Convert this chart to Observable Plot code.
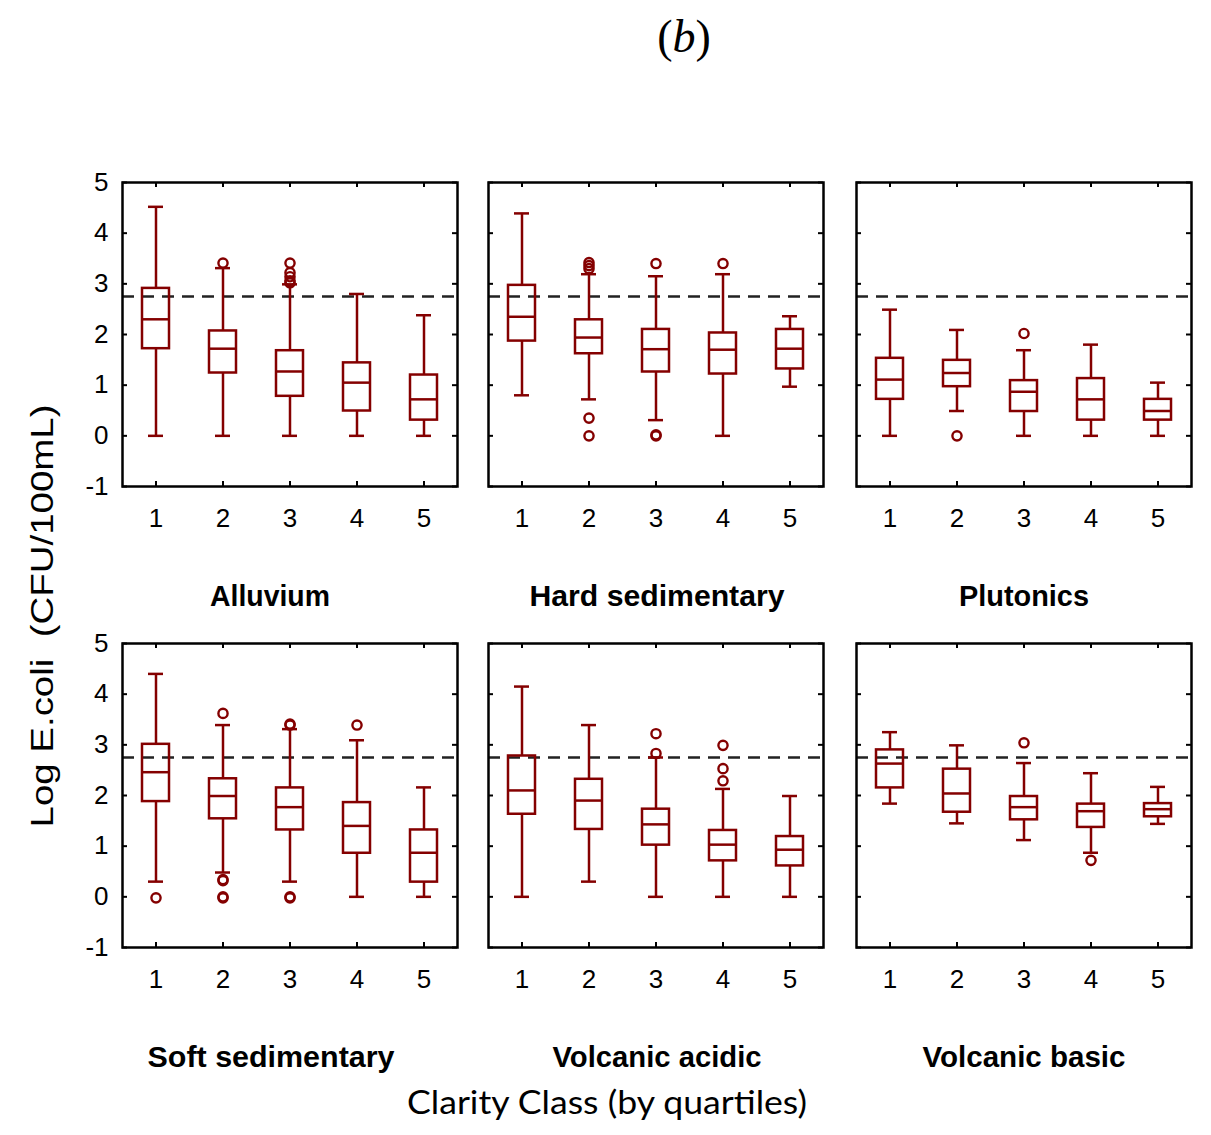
<!DOCTYPE html>
<html>
<head>
<meta charset="utf-8">
<script src="https://cdn.jsdelivr.net/npm/d3@7"></script>
<script src="https://cdn.jsdelivr.net/npm/@observablehq/plot@0.6"></script>
<style>
  html, body { margin: 0; padding: 0; background: #ffffff; }
  #chart { position: relative; width: 1211px; height: 1135px; background: #ffffff; overflow: hidden; }
  #chart .panel { position: absolute; }
  #chart .overlay { position: absolute; left: 0; top: 0; pointer-events: none; }
</style>
</head>
<body>
<div id="chart"></div>
<script>
// ---------------- data ----------------
const classes = [1, 2, 3, 4, 5];
const panelNames = ["Alluvium", "Hard sedimentary", "Plutonics", "Soft sedimentary", "Volcanic acidic", "Volcanic basic"];
const yTicks = [-1, 0, 1, 2, 3, 4, 5];
const threshold = 2.75;
const title = "(b)";
const yTitle = "Log E.coli  (CFU/100mL)";
const xTitle = "Clarity Class (by quartiles)";

// one row per panel, one value per clarity class
const whiskerLow = [
  [0, 0, 0, 0, 0],
  [0.80, 0.72, 0.31, 0, 0.97],
  [0, 0.49, 0, 0, 0],
  [0.30, 0.48, 0.30, 0, 0],
  [0, 0.30, 0, 0, 0],
  [1.84, 1.45, 1.12, 0.87, 1.44]
];
const quartile1 = [
  [1.72, 1.24, 0.78, 0.49, 0.31],
  [1.87, 1.62, 1.26, 1.22, 1.32],
  [0.72, 0.97, 0.48, 0.31, 0.31],
  [1.88, 1.54, 1.32, 0.86, 0.29],
  [1.63, 1.33, 1.02, 0.71, 0.61],
  [2.15, 1.67, 1.52, 1.37, 1.58]
];
const medians = [
  [2.30, 1.72, 1.27, 1.05, 0.72],
  [2.35, 1.94, 1.71, 1.70, 1.72],
  [1.11, 1.24, 0.87, 0.72, 0.49],
  [2.46, 1.99, 1.77, 1.40, 0.87],
  [2.10, 1.90, 1.43, 1.03, 0.93],
  [2.63, 2.04, 1.77, 1.69, 1.73]
];
const quartile3 = [
  [2.91, 2.07, 1.68, 1.44, 1.20],
  [2.97, 2.29, 2.10, 2.03, 2.10],
  [1.53, 1.49, 1.09, 1.13, 0.72],
  [3.01, 2.33, 2.15, 1.86, 1.32],
  [2.78, 2.32, 1.73, 1.31, 1.19],
  [2.90, 2.52, 1.98, 1.83, 1.84]
];
const whiskerHigh = [
  [4.52, 3.31, 2.99, 2.80, 2.38],
  [4.39, 3.19, 3.15, 3.19, 2.36],
  [2.49, 2.09, 1.69, 1.80, 1.05],
  [4.40, 3.39, 3.31, 3.09, 2.16],
  [4.15, 3.39, 2.75, 2.13, 1.99],
  [3.25, 2.99, 2.64, 2.44, 2.17]
];
// [class, value] per outlier
const outliers = [
  [[2, 3.41], [3, 3.41], [3, 3.22], [3, 3.14], [3, 3.06], [3, 3.02]],
  [[2, 3.42], [2, 3.36], [2, 3.30], [2, 0.35], [2, 0], [3, 3.40], [3, 0], [3, 0.02], [4, 3.40]],
  [[2, 0], [3, 2.02]],
  [[1, -0.02], [2, 3.62], [2, 0.34], [2, 0.32], [2, -0.02], [2, 0], [3, 3.41], [3, 3.39], [3, -0.02], [3, 0], [4, 3.39]],
  [[3, 3.22], [3, 2.83], [4, 2.99], [4, 2.53], [4, 2.29]],
  [[3, 3.04], [4, 0.72]]
];

// ---------------- layout ----------------
const RED = "#840000";
const frameLefts = [122, 488, 856];
const frameTops = [182, 643];
const frameW = 335, frameH = 304;
const ML = 60, MR = 12, MT = 12, MB = 60;
const titleX = [270, 657, 1024, 271, 657, 1024];
const titleLen = [120, 255, 130, 247, 209, 203];
const titleBaseline = [606, 1067];

const chart = document.getElementById("chart");

function panel(i) {
  const col = i % 3;
  const rows = classes.map((c, j) => ({
    cls: c,
    lo: whiskerLow[i][j],
    q1: quartile1[i][j],
    med: medians[i][j],
    q3: quartile3[i][j],
    hi: whiskerHigh[i][j]
  }));
  const out = outliers[i].map(([c, v]) => ({cls: c, v}));
  const sw = 2.5;
  return Plot.plot({
    width: ML + frameW + MR,
    height: MT + frameH + MB,
    marginLeft: ML, marginRight: MR, marginTop: MT, marginBottom: MB,
    style: {fontFamily: "'Liberation Sans', Arial, sans-serif", fontSize: "26px", color: "#000", background: "transparent", overflow: "visible"},
    x: {type: "band", domain: classes, padding: 0},
    y: {domain: [-1, 5]},
    marks: [
      Plot.ruleY([threshold], {stroke: "#222", strokeWidth: 2.7, strokeDasharray: "12,8"}),
      Plot.ruleX(rows, {x: "cls", y1: "q3", y2: "hi", stroke: RED, strokeWidth: sw}),
      Plot.ruleX(rows, {x: "cls", y1: "lo", y2: "q1", stroke: RED, strokeWidth: sw}),
      Plot.tickY(rows, {x: "cls", y: "hi", stroke: RED, strokeWidth: sw, inset: 26}),
      Plot.tickY(rows, {x: "cls", y: "lo", stroke: RED, strokeWidth: sw, inset: 26}),
      Plot.barY(rows, {x: "cls", y1: "q1", y2: "q3", fill: "none", stroke: RED, strokeWidth: sw, insetLeft: 20, insetRight: 20}),
      Plot.tickY(rows, {x: "cls", y: "med", stroke: RED, strokeWidth: sw, inset: 20}),
      Plot.dot(out, {x: "cls", y: "v", r: 4.6, stroke: RED, strokeWidth: 2.4, fill: "none"}),
      Plot.gridY(yTicks, {stroke: "#000", strokeOpacity: 1, strokeWidth: 2, insetRight: frameW - 5}),
      Plot.gridY(yTicks, {stroke: "#000", strokeOpacity: 1, strokeWidth: 2, insetLeft: frameW - 5}),
      Plot.gridX(classes, {stroke: "#000", strokeOpacity: 1, strokeWidth: 2, insetTop: frameH - 5}),
      Plot.gridX(classes, {stroke: "#000", strokeOpacity: 1, strokeWidth: 2, insetBottom: frameH - 5}),
      Plot.frame({stroke: "#000", strokeWidth: 2.5}),
      Plot.axisX(classes, {tickSize: 0, tickPadding: 22, label: null}),
      col === 0
        ? Plot.axisY(yTicks, {tickSize: 0, tickPadding: 14, label: null, tickFormat: (d) => String(d)})
        : Plot.axisY([], {label: null})
    ]
  });
}

for (let i = 0; i < 6; i++) {
  const svg = panel(i);
  svg.classList.add("panel");
  svg.style.left = (frameLefts[i % 3] - ML) + "px";
  svg.style.top = (frameTops[Math.floor(i / 3)] - MT) + "px";
  chart.appendChild(svg);
}

// overlay texts
const NS = "http://www.w3.org/2000/svg";
const ov = document.createElementNS(NS, "svg");
ov.setAttribute("class", "overlay");
ov.setAttribute("width", 1211);
ov.setAttribute("height", 1135);
function addText(str, attrs, style) {
  const t = document.createElementNS(NS, "text");
  for (const k in attrs) t.setAttribute(k, attrs[k]);
  Object.assign(t.style, style || {});
  t.textContent = str;
  ov.appendChild(t);
  return t;
}
// title "(b)" with italic b
{
  const t = document.createElementNS(NS, "text");
  t.setAttribute("x", 684); t.setAttribute("y", 52);
  t.setAttribute("text-anchor", "middle");
  t.style.fontFamily = "'Liberation Serif', 'DejaVu Serif', serif";
  t.style.fontSize = "46px";
  t.style.fill = "#000";
  const m = title.match(/^\((.*)\)$/);
  const a = document.createElementNS(NS, "tspan"); a.textContent = "(";
  const b = document.createElementNS(NS, "tspan"); b.textContent = m ? m[1] : title; b.style.fontStyle = "italic";
  const c = document.createElementNS(NS, "tspan"); c.textContent = ")";
  t.append(a, b, c);
  ov.appendChild(t);
}
// panel titles
panelNames.forEach((name, i) => {
  addText(name, {
    x: titleX[i], y: titleBaseline[Math.floor(i / 3)], "text-anchor": "middle",
    textLength: titleLen[i], lengthAdjust: "spacingAndGlyphs"
  }, {fontFamily: "'Liberation Sans', Arial, sans-serif", fontWeight: "bold", fontSize: "29px", fill: "#000"});
});
// y title
addText(yTitle, {
  transform: "translate(53,616) rotate(-90)", "text-anchor": "middle",
  textLength: 423, lengthAdjust: "spacingAndGlyphs"
}, {fontFamily: "'Liberation Sans', Arial, sans-serif", fontSize: "31px", fill: "#000", whiteSpace: "pre"});
// x title
addText(xTitle, {
  x: 607, y: 1114, "text-anchor": "middle",
  textLength: 400, lengthAdjust: "spacingAndGlyphs"
}, {fontFamily: "Lato, 'Open Sans', sans-serif", fontSize: "33px", fill: "#000"});
chart.appendChild(ov);
</script>
</body>
</html>
